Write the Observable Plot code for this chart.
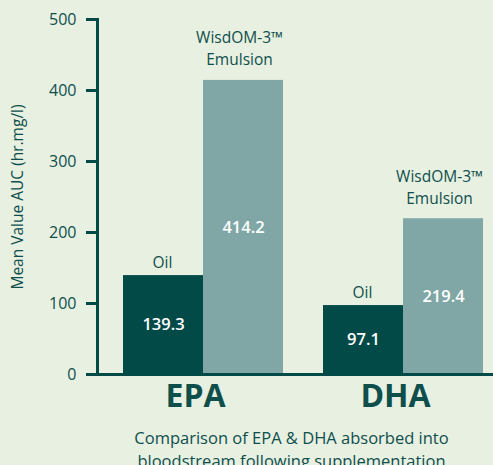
<!DOCTYPE html>
<html>
<head>
<meta charset="utf-8">
<script src="https://cdn.jsdelivr.net/npm/d3@7"></script>
<script src="https://cdn.jsdelivr.net/npm/@observablehq/plot@0.6"></script>
<style>
  html, body { margin: 0; padding: 0; background: #e8f0e2; }
</style>
</head>
<body>
<div id="chart"></div>
<script>
const categories = ["EPA", "DHA"];
const seriesNames = ["Oil", "WisdOM-3™\nEmulsion"];
const oilValues = [139.3, 97.1];
const emulsionValues = [414.2, 219.4];
const yTicks = [0, 100, 200, 300, 400, 500];
const yLabel = "Mean Value AUC (hr.mg/l)";
const caption = "Comparison of EPA & DHA absorbed into\nbloodstream following supplementation";

const rows = [];
categories.forEach((c, i) => {
  rows.push({category: c, series: seriesNames[0], value: oilValues[i], kind: "oil"});
  rows.push({category: c, series: seriesNames[1], value: emulsionValues[i], kind: "emulsion"});
});
const oil = rows.filter(d => d.kind === "oil");
const emu = rows.filter(d => d.kind === "emulsion");

const dark = "#024a47";
const light = "#80a7a5";
const ink = "#0e4f4c";

const chart = Plot.plot({
  width: 493,
  height: 465,
  marginLeft: 97,
  marginRight: 0,
  marginTop: 19,
  marginBottom: 91,
  style: {background: "#e8f0e2", fontFamily: "Open Sans", color: ink, overflow: "visible"},
  x: {domain: categories, paddingInner: 0.2, paddingOuter: 0.09, align: 0.722, label: null},
  y: {domain: [0, 500], label: null},
  marks: [
    Plot.barY(oil, {x: "category", y: "value", fill: dark, insetRight: 80}),
    Plot.barY(emu, {x: "category", y: "value", fill: light, insetLeft: 80}),
    Plot.ruleY([0], {stroke: dark, strokeWidth: 3}),
    Plot.frame({anchor: "left", stroke: dark, strokeWidth: 3}),
    Plot.axisY({ticks: yTicks, tickSize: 11, tickPadding: 10, strokeWidth: 3, stroke: dark,
      fontSize: 16, fill: ink, label: null}),
    Plot.axisY({ticks: [], label: yLabel, labelAnchor: "center", labelOffset: 86, labelArrow: false, fontSize: 15.5, fill: ink, tickSize: 0}),
    Plot.axisX({tickSize: 0, tickPadding: 10, fontSize: 32, fontWeight: "bold", fill: ink, dx: -8, label: null}),
    Plot.text(oil, {x: "category", y: "value", text: "series", dx: -41, dy: -8, lineAnchor: "bottom", fontSize: 15.5, fill: ink}),
    Plot.text(emu, {x: "category", y: "value", text: "series", dx: 36, dy: -15, lineAnchor: "bottom", lineHeight: 1.42, fontSize: 15.5, fill: ink}),
    Plot.text(oil, {x: "category", y: d => d.value / 2, text: d => d.value.toFixed(1), dx: -40, fontSize: 16.5, fontWeight: 600, fill: "white"}),
    Plot.text(emu, {x: "category", y: d => d.value / 2, text: d => d.value.toFixed(1), dx: 40, fontSize: 16.5, fontWeight: 600, fill: "white"}),
    Plot.text([caption], {frameAnchor: "bottom", text: d => d, dx: -4, dy: 53, lineAnchor: "top", lineHeight: 1.4, fontSize: 16.5, fill: ink})
  ]
});
document.getElementById("chart").appendChild(chart);
</script>
</body>
</html>
